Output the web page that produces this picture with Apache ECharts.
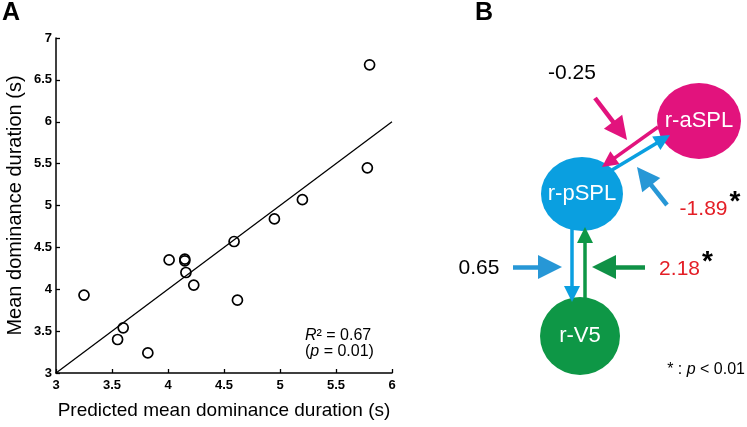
<!DOCTYPE html>
<html><head><meta charset="utf-8">
<script src="https://cdn.jsdelivr.net/npm/echarts@6/dist/echarts.min.js"></script>
<style>html,body{margin:0;padding:0;background:#fff}#c{width:747px;height:427px}</style>
</head><body><div id="c"></div>
<script>
// ---------- Panel A data ----------
const predicted = [3.25, 3.55, 3.60, 3.82, 4.01, 4.15, 4.15, 4.16, 4.23, 4.59, 4.62, 4.95, 5.20, 5.78, 5.80];
const observed  = [3.93, 3.40, 3.54, 3.24, 4.35, 4.36, 4.34, 4.20, 4.05, 4.57, 3.87, 4.84, 5.07, 5.45, 6.68];
const fitX = [3, 6];
const fitY = [3, 6];
const xTicks = ['3', '3.5', '4', '4.5', '5', '5.5', '6'];
const yTicks = ['3', '3.5', '4', '4.5', '5', '5.5', '6', '6.5', '7'];
const rSquared = '0.67';
const pValue = '0.01';
// ---------- Panel B data ----------
const regions = ['r-aSPL', 'r-pSPL', 'r-V5'];
const connections = [['r-aSPL', 'r-pSPL'], ['r-pSPL', 'r-aSPL'], ['r-pSPL', 'r-V5'], ['r-V5', 'r-pSPL']];
const modulators = ['r-aSPL→r-pSPL', 'r-pSPL→r-aSPL', 'r-pSPL→r-V5', 'r-V5→r-pSPL'];
const coefValues = ['-0.25', '-1.89', '0.65', '2.18'];
const coefSignificant = [false, true, false, true];
const sigNote = '0.01';

// ---------- layout / style (not data) ----------
const FONT = '"Liberation Sans", Arial, sans-serif';
const COL = { mag: '#e2137d', blue: '#0a9fe0', blueIn: '#2797d6', green: '#0e9746', greenIn: '#0f9146', red: '#e41e26' };
// panel B uses a hidden grid whose units equal pixels (origin at panel corner)
const nodeLayout = {
  'r-aSPL': { pos: [259, 121], size: [84, 76], color: COL.mag },
  'r-pSPL': { pos: [142, 194], size: [82, 74], color: COL.blue },
  'r-V5':   { pos: [140, 336], size: [80, 78], color: COL.green }
};
// connection arrows: [from, tip]
const connLayout = [
  { p: [[218, 127], [162, 167]], color: COL.mag,   w: 3.5, head: [13, 16] },
  { p: [[172, 170], [230, 135]], color: COL.blue,  w: 3.5, head: [13, 16] },
  { p: [[132, 229], [132, 302]], color: COL.blue,  w: 3.5, head: [13, 16] },
  { p: [[145, 298], [145, 227]], color: COL.green, w: 3.5, head: [13, 16] }
];
const modLayout = [
  { p: [[155, 98], [187, 140]],  color: COL.mag,     w: 4.5, head: [21, 23] },
  { p: [[227, 205], [197, 167]], color: COL.blueIn,  w: 4.5, head: [21, 23] },
  { p: [[73, 267], [122, 267]],  color: COL.blueIn,  w: 4.5, head: [24, 24] },
  { p: [[205, 267], [152, 267]], color: COL.greenIn, w: 4.5, head: [24, 24] }
];
const coefLabelPos = [[132, 73], [270, 209], [39, 268], [246, 269]];

function arrowSeries(a) {
  const [s, t] = a.p;
  const dx = t[0] - s[0], dy = t[1] - s[1];
  const L = Math.hypot(dx, dy);
  const e = [t[0] - dx / L * a.head[1] / 2, t[1] - dy / L * a.head[1] / 2];
  return {
    type: 'lines', coordinateSystem: 'cartesian2d', xAxisIndex: 1, yAxisIndex: 1,
    silent: true, animation: false, z: 3,
    symbol: ['none', 'triangle'], symbolSize: a.head,
    lineStyle: { color: a.color, width: a.w, opacity: 1, curveness: 0 },
    itemStyle: { color: a.color, opacity: 1 },
    emphasis: { disabled: true },
    data: [{ coords: [s, e] }]
  };
}

const chart = echarts.init(document.getElementById('c'), null, { renderer: 'canvas' });
const series = [];

// Panel A: regression line and points
series.push({
  type: 'line', xAxisIndex: 0, yAxisIndex: 0, silent: true, animation: false,
  symbol: 'none', lineStyle: { color: '#000', width: 1.3, opacity: 1 },
  data: fitX.map((x, i) => [x, fitY[i]])
});
series.push({
  type: 'scatter', xAxisIndex: 0, yAxisIndex: 0, silent: true, animation: false,
  symbol: 'circle', symbolSize: 10,
  itemStyle: { color: 'rgba(255,255,255,0)', borderColor: '#000', borderWidth: 1.7, opacity: 1 },
  emphasis: { disabled: true },
  data: predicted.map((x, i) => [x, observed[i]]), z: 4
});

// Panel B arrows
connLayout.forEach(a => series.push(arrowSeries(a)));
modLayout.forEach(a => series.push(arrowSeries(a)));

// Panel B nodes
series.push({
  type: 'scatter', xAxisIndex: 1, yAxisIndex: 1, silent: true, animation: false, z: 2,
  emphasis: { disabled: true },
  data: regions.map(r => ({
    value: nodeLayout[r].pos, symbolSize: nodeLayout[r].size,
    itemStyle: { color: nodeLayout[r].color, opacity: 1 }, name: r
  })),
  symbol: 'circle',
  label: { show: true, position: 'inside', color: '#fff', fontFamily: FONT, fontSize: 22,
           formatter: p => p.name }
});

// Panel B coefficient labels
series.push({
  type: 'scatter', xAxisIndex: 1, yAxisIndex: 1, silent: true, animation: false, z: 5,
  symbolSize: 0, itemStyle: { opacity: 1 },
  emphasis: { disabled: true },
  data: coefValues.map((v, i) => ({ value: coefLabelPos[i], name: v })),
  label: {
    show: true, position: 'inside', fontFamily: FONT, fontSize: 21, opacity: 1,
    formatter: p => coefSignificant[p.dataIndex] ? '{r|' + p.name + '}{s|*}' : '{k|' + p.name + '}',
    rich: {
      k: { color: '#000', fontFamily: FONT, fontSize: 21 },
      r: { color: COL.red, fontFamily: FONT, fontSize: 21 },
      s: { color: '#000', fontFamily: FONT, fontSize: 28, fontWeight: 'bold', padding: [0, 0, 14, 2] }
    }
  }
});

const axisTextStyle = { color: '#000', fontFamily: FONT, fontSize: 13, fontWeight: 'bold' };

chart.setOption({
  animation: false,
  backgroundColor: '#fff',
  grid: [
    { left: 56, top: 38, width: 336, height: 335 },
    { left: 440, top: 0, width: 307, height: 427 }
  ],
  xAxis: [
    {
      gridIndex: 0, type: 'value', min: 3, max: 6, interval: 0.5,
      axisLine: { lineStyle: { color: '#000', width: 1.5 } },
      axisTick: { inside: true, length: 4, lineStyle: { color: '#000', width: 1.3 } },
      splitLine: { show: false },
      axisLabel: Object.assign({ margin: 6, formatter: (v, i) => xTicks[i] }, axisTextStyle),
      name: 'Predicted mean dominance duration (s)', nameLocation: 'middle', nameGap: 28,
      nameTextStyle: { color: '#000', fontFamily: FONT, fontSize: 19 }
    },
    { gridIndex: 1, type: 'value', min: 0, max: 307, show: false }
  ],
  yAxis: [
    {
      gridIndex: 0, type: 'value', min: 3, max: 7, interval: 0.5,
      axisLine: { show: true, lineStyle: { color: '#000', width: 1.5 } },
      axisTick: { show: true, inside: true, length: 4, lineStyle: { color: '#000', width: 1.3 } },
      splitLine: { show: false },
      axisLabel: Object.assign({ margin: 4, formatter: (v, i) => yTicks[i] }, axisTextStyle),
      name: 'Mean dominance duration (s)', nameLocation: 'middle', nameGap: 31,
      nameTextStyle: { color: '#000', fontFamily: FONT, fontSize: 20 }
    },
    { gridIndex: 1, type: 'value', min: 0, max: 427, inverse: true, show: false }
  ],
  graphic: [
    { type: 'text', left: 2, top: 1, style: { text: 'A', font: 'bold 25px ' + FONT, fill: '#000' } },
    { type: 'text', left: 475, top: 1, style: { text: 'B', font: 'bold 25px ' + FONT, fill: '#000' } },
    { type: 'text', left: 305, top: 328, style: {
        text: '{i|R}{n|² = ' + rSquared + '}\n{n|(}{i|p}{n| = ' + pValue + ')}',
        rich: { i: { fontFamily: FONT, fontSize: 16, fontStyle: 'italic', fill: '#000', lineHeight: 16 },
                n: { fontFamily: FONT, fontSize: 16, fill: '#000', lineHeight: 16 } } } },
    { type: 'text', right: 2, top: 362, style: {
        text: '{n|* : }{i|p}{n| < ' + sigNote + '}',
        rich: { i: { fontFamily: FONT, fontSize: 16, fontStyle: 'italic', fill: '#000' },
                n: { fontFamily: FONT, fontSize: 16, fill: '#000' } } } }
  ],
  series: series
});
</script>
</body></html>
